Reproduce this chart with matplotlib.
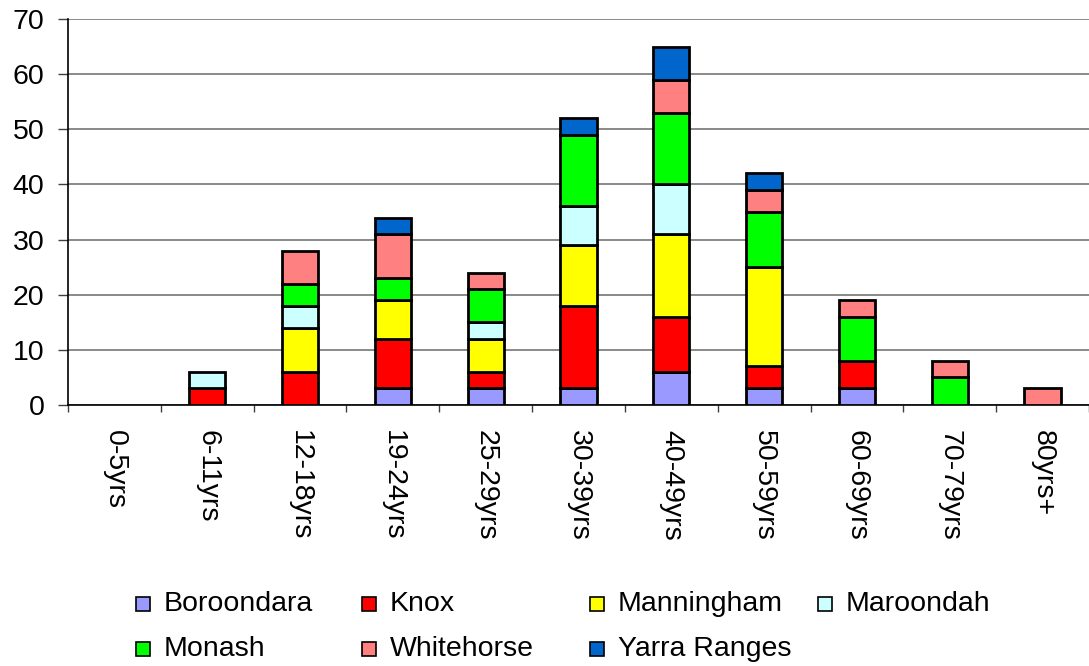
import numpy as np
import matplotlib
matplotlib.use("Agg")
import matplotlib.pyplot as plt
from matplotlib.patches import Rectangle

plt.rcParams["font.family"] = ["Liberation Sans", "DejaVu Sans"]

ages = ["0-5yrs", "6-11yrs", "12-18yrs", "19-24yrs", "25-29yrs", "30-39yrs",
        "40-49yrs", "50-59yrs", "60-69yrs", "70-79yrs", "80yrs+"]
names = ["Boroondara", "Knox", "Manningham", "Maroondah", "Monash", "Whitehorse", "Yarra Ranges"]
colors = ["#9999FF", "#FF0000", "#FFFF00", "#CCFFFF", "#00FF00", "#FF8080", "#0066CC"]

boroondara = [0, 0, 0, 3, 3, 3, 6, 3, 3, 0, 0]
knox = [0, 3, 6, 9, 3, 15, 10, 4, 5, 0, 0]
manningham = [0, 0, 8, 7, 6, 11, 15, 18, 0, 0, 0]
maroondah = [0, 3, 4, 0, 3, 7, 9, 0, 0, 0, 0]
monash = [0, 0, 4, 4, 6, 13, 13, 10, 8, 5, 0]
whitehorse = [0, 0, 6, 8, 3, 0, 6, 4, 3, 3, 3]
yarra = [0, 0, 0, 3, 0, 3, 6, 3, 0, 0, 0]
series = [boroondara, knox, manningham, maroondah, monash, whitehorse, yarra]

FS = 20.5

fig = plt.figure(figsize=(10.89, 6.66), dpi=100)
ax = fig.add_axes([68 / 1089, (666 - 405) / 666, 1 - 68 / 1089, (405 - 19) / 666])

x = np.arange(len(ages))
bottom = np.zeros(len(ages))
for vals, col in zip(series, colors):
    v = np.array(vals, dtype=float)
    h = np.where(v > 0, v, np.nan)
    ax.bar(x, h, 0.39, bottom=bottom, color=col, edgecolor="black", linewidth=2.0, zorder=3)
    bottom += v

ax.set_xlim(-0.5, len(ages) - 0.5)
ax.set_ylim(0, 70)
ax.set_yticks(range(0, 71, 10))
ax.yaxis.grid(True, color="#808080", linewidth=1.3, zorder=0)
ax.set_xticks(x)
ax.set_xticklabels(ages, rotation=270, va="top", ha="center")
ax.set_xticks(np.arange(len(ages) + 1) - 0.5, minor=True)
ax.tick_params(axis="x", which="major", length=0, pad=18, labelsize=FS)
ax.tick_params(axis="x", which="minor", length=5, width=1, color="#404040")
ax.tick_params(axis="y", length=7, width=1, pad=10, labelsize=FS, color="#404040")
for s in ("top", "right"):
    ax.spines[s].set_visible(False)
for s in ("left", "bottom"):
    ax.spines[s].set_color("black")
    ax.spines[s].set_linewidth(1.2)

# legend, 4 columns x 2 rows
col_x = [136, 362, 590, 818]
row_y = [604, 649]
for i, (name, col) in enumerate(zip(names, colors)):
    px, py = col_x[i % 4], row_y[i // 4]
    fig.patches.append(Rectangle((px / 1089, (666 - py - 7) / 666), 14 / 1089, 14 / 666,
                                 transform=fig.transFigure, facecolor=col,
                                 edgecolor="black", linewidth=1.2))
    fig.text((px + 28) / 1089, (666 - py) / 666, name, fontsize=FS, va="center", ha="left")

fig.savefig("out.png", dpi=100)
